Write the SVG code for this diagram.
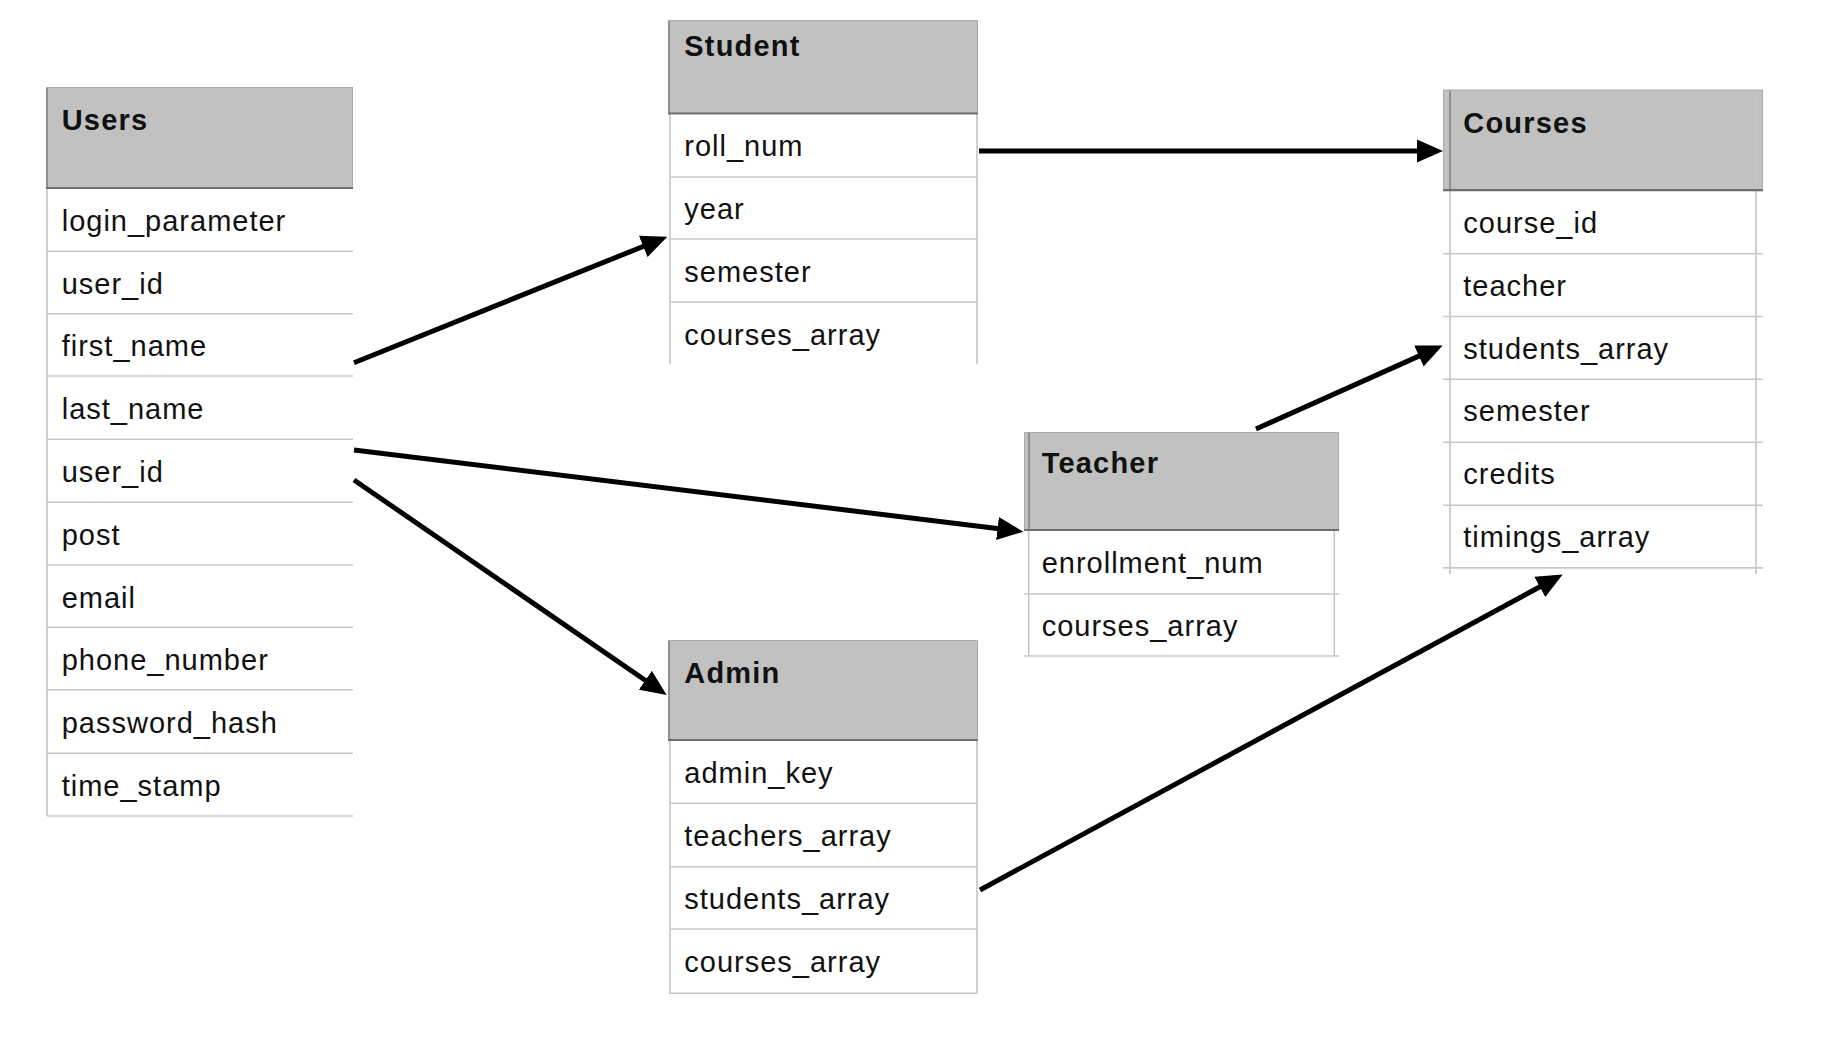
<svg xmlns="http://www.w3.org/2000/svg" width="1836" height="1040" viewBox="0 0 1836 1040">
<style>
.hdr{fill:#c1c1c1;stroke:#ababab;stroke-width:1}
.hb{stroke:#6e6e6e;stroke-width:2.2}
.hl{stroke:#8f8f8f;stroke-width:2}
.rl{stroke:#c8c8c8;stroke-width:1.6}
.vl{stroke:#c4c4c4;stroke-width:1.6}
.t{font-family:"Liberation Sans",Arial,Helvetica,sans-serif;font-size:29px;letter-spacing:1px;fill:#111}
.h{font-family:"Liberation Sans",Arial,Helvetica,sans-serif;font-size:29px;font-weight:bold;letter-spacing:1.2px;fill:#111}
.c{stroke:#000;stroke-width:5;fill:none;marker-end:url(#ah)}
</style>
<defs>
<marker id="ah" markerUnits="userSpaceOnUse" markerWidth="28" markerHeight="24" viewBox="0 -12 28 24" refX="14" refY="0" orient="auto">
<path d="M0,-11.5 L26,0 L0,11.5 z" fill="#000"/>
</marker>
</defs>
<rect width="1836" height="1040" fill="#fff"/>

<g id="users">
<rect class="hdr" x="46.5" y="87.5" width="306" height="100"/>
<line class="hl" x1="47" y1="88" x2="47" y2="188"/>
<line class="vl" x1="47" y1="188" x2="47" y2="816"/>
<line class="rl" x1="47" y1="251.3" x2="353" y2="251.3"/>
<line class="rl" x1="47" y1="313.7" x2="353" y2="313.7"/>
<line class="rl" x1="47" y1="376" x2="353" y2="376"/>
<line class="rl" x1="47" y1="439.3" x2="353" y2="439.3"/>
<line class="rl" x1="47" y1="502.3" x2="353" y2="502.3"/>
<line class="rl" x1="47" y1="565" x2="353" y2="565"/>
<line class="rl" x1="47" y1="627.3" x2="353" y2="627.3"/>
<line class="rl" x1="47" y1="689.7" x2="353" y2="689.7"/>
<line class="rl" x1="47" y1="753.3" x2="353" y2="753.3"/>
<line class="rl" x1="47" y1="816" x2="353" y2="816"/>
<line class="hb" x1="46" y1="188" x2="353" y2="188"/>
<text class="h" x="61.7" y="130">Users</text>
<text class="t" x="61.7" y="230.7">login_parameter</text>
<text class="t" x="61.7" y="293.5">user_id</text>
<text class="t" x="61.7" y="356">first_name</text>
<text class="t" x="61.7" y="418.5">last_name</text>
<text class="t" x="61.7" y="481.5">user_id</text>
<text class="t" x="61.7" y="544.5">post</text>
<text class="t" x="61.7" y="607.5">email</text>
<text class="t" x="61.7" y="670">phone_number</text>
<text class="t" x="61.7" y="732.5">password_hash</text>
<text class="t" x="61.7" y="795.5">time_stamp</text>
</g>

<g id="student">
<rect class="hdr" x="668.5" y="20.5" width="309" height="93"/>
<line class="hl" x1="669" y1="21" x2="669" y2="113"/>
<line class="vl" x1="670" y1="113" x2="670" y2="364"/>
<line class="vl" x1="977" y1="113" x2="977" y2="364"/>
<line class="rl" x1="669" y1="177" x2="977" y2="177"/>
<line class="rl" x1="669" y1="239" x2="977" y2="239"/>
<line class="rl" x1="669" y1="302" x2="977" y2="302"/>
<line class="hb" x1="668" y1="113.5" x2="978" y2="113.5"/>
<text class="h" x="684.3" y="56">Student</text>
<text class="t" x="684.3" y="155.5">roll_num</text>
<text class="t" x="684.3" y="219">year</text>
<text class="t" x="684.3" y="281.5">semester</text>
<text class="t" x="684.3" y="344.5">courses_array</text>
</g>

<g id="courses">
<rect class="hdr" x="1443.5" y="90" width="319" height="100"/>
<line class="hl" x1="1450" y1="90.5" x2="1450" y2="190"/>
<line class="vl" x1="1450" y1="190" x2="1450" y2="574"/>
<line class="vl" x1="1756" y1="90.5" x2="1756" y2="574"/>
<line class="rl" x1="1443" y1="253.8" x2="1763" y2="253.8"/>
<line class="rl" x1="1443" y1="316.5" x2="1763" y2="316.5"/>
<line class="rl" x1="1443" y1="379.2" x2="1763" y2="379.2"/>
<line class="rl" x1="1443" y1="442.2" x2="1763" y2="442.2"/>
<line class="rl" x1="1443" y1="505.2" x2="1763" y2="505.2"/>
<line class="rl" x1="1443" y1="567.9" x2="1763" y2="567.9"/>
<line class="hb" x1="1443" y1="190.2" x2="1763" y2="190.2"/>
<text class="h" x="1463.3" y="133">Courses</text>
<text class="t" x="1463.3" y="232.5">course_id</text>
<text class="t" x="1463.3" y="295.5">teacher</text>
<text class="t" x="1463.3" y="358.5">students_array</text>
<text class="t" x="1463.3" y="421">semester</text>
<text class="t" x="1463.3" y="484">credits</text>
<text class="t" x="1463.3" y="547">timings_array</text>
</g>

<g id="teacher">
<rect class="hdr" x="1024.5" y="432.5" width="314" height="97.5"/>
<line class="hl" x1="1029" y1="433" x2="1029" y2="530"/>
<line class="vl" x1="1028.7" y1="530" x2="1028.7" y2="656"/>
<line class="vl" x1="1334.3" y1="433" x2="1334.3" y2="656"/>
<line class="rl" x1="1024" y1="594" x2="1339" y2="594"/>
<line class="rl" x1="1024" y1="656" x2="1339" y2="656"/>
<line class="hb" x1="1024" y1="530" x2="1339" y2="530"/>
<text class="h" x="1041.7" y="473.3">Teacher</text>
<text class="t" x="1041.7" y="572.7">enrollment_num</text>
<text class="t" x="1041.7" y="636">courses_array</text>
</g>

<g id="admin">
<rect class="hdr" x="668.5" y="640.5" width="309" height="99.5"/>
<line class="hl" x1="669" y1="641" x2="669" y2="740"/>
<line class="vl" x1="670" y1="740" x2="670" y2="993"/>
<line class="vl" x1="977" y1="740" x2="977" y2="993"/>
<line class="rl" x1="669" y1="803.3" x2="977" y2="803.3"/>
<line class="rl" x1="669" y1="866.7" x2="977" y2="866.7"/>
<line class="rl" x1="669" y1="929" x2="977" y2="929"/>
<line class="rl" x1="669" y1="993.3" x2="977" y2="993.3"/>
<line class="hb" x1="668" y1="740" x2="978" y2="740"/>
<text class="h" x="684.3" y="682.7">Admin</text>
<text class="t" x="684.3" y="782.7">admin_key</text>
<text class="t" x="684.3" y="846">teachers_array</text>
<text class="t" x="684.3" y="909">students_array</text>
<text class="t" x="684.3" y="972">courses_array</text>
</g>

<g id="connectors">
<path class="c" d="M354,362.7 L656.2,241.2"/>
<path class="c" d="M979,151 L1431,151"/>
<path class="c" d="M354,450 L1011.4,530.2"/>
<path class="c" d="M354,480 L656.8,688.2"/>
<path class="c" d="M1256,429 L1431.7,350.4"/>
<path class="c" d="M980,890 L1552.1,580.2"/>
</g>
</svg>
